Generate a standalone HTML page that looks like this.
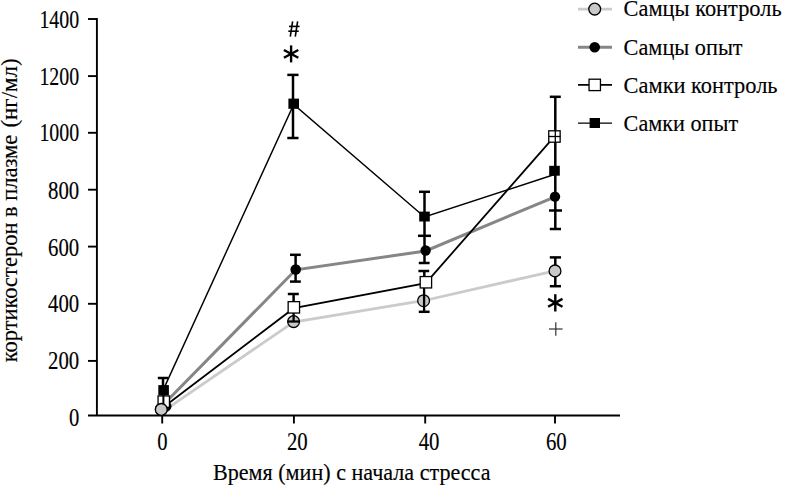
<!DOCTYPE html>
<html><head><meta charset="utf-8">
<style>
html,body{margin:0;padding:0;background:#fff;}
body{width:790px;height:485px;overflow:hidden;}
svg{display:block;}
text{font-family:"Liberation Serif",serif;fill:#000;stroke:#000;stroke-width:0.15px;}
</style></head>
<body>
<svg width="790" height="485" viewBox="0 0 790 485">
<rect width="790" height="485" fill="#fff"/>
<!-- axes -->
<g stroke="#000" stroke-width="1.9" fill="none">
<line x1="96.9" y1="18.1" x2="96.9" y2="415.5"/>
<line x1="88" y1="415.5" x2="620" y2="415.5"/>
<line x1="88" y1="19" x2="96.9" y2="19"/>
<line x1="88" y1="76.1" x2="96.9" y2="76.1"/>
<line x1="88" y1="132.8" x2="96.9" y2="132.8"/>
<line x1="88" y1="189.7" x2="96.9" y2="189.7"/>
<line x1="88" y1="246.6" x2="96.9" y2="246.6"/>
<line x1="88" y1="303.8" x2="96.9" y2="303.8"/>
<line x1="88" y1="360.9" x2="96.9" y2="360.9"/>
<line x1="162.2" y1="415.5" x2="162.2" y2="423.5"/>
<line x1="293.9" y1="415.5" x2="293.9" y2="423.5"/>
<line x1="425.2" y1="415.5" x2="425.2" y2="423.5"/>
<line x1="555" y1="415.5" x2="555" y2="423.5"/>
</g>
<!-- y tick labels -->
<g font-size="24.5" text-anchor="end">
<text x="79.2" y="27.75" textLength="39.8" lengthAdjust="spacingAndGlyphs">1400</text>
<text x="79.2" y="84.85" textLength="39.8" lengthAdjust="spacingAndGlyphs">1200</text>
<text x="79.2" y="141.45" textLength="39.8" lengthAdjust="spacingAndGlyphs">1000</text>
<text x="79.2" y="198.6" textLength="31.2" lengthAdjust="spacingAndGlyphs">800</text>
<text x="79.2" y="255.5" textLength="31.2" lengthAdjust="spacingAndGlyphs">600</text>
<text x="79.2" y="312.1" textLength="31.2" lengthAdjust="spacingAndGlyphs">400</text>
<text x="79.2" y="369.2" textLength="31.2" lengthAdjust="spacingAndGlyphs">200</text>
<text x="79.2" y="426.1" textLength="10.3" lengthAdjust="spacingAndGlyphs">0</text>
</g>
<!-- x tick labels -->
<g font-size="25" text-anchor="middle">
<text x="162.45" y="449.6" textLength="10.3" lengthAdjust="spacingAndGlyphs">0</text>
<text x="297.3" y="449.6" textLength="20.8" lengthAdjust="spacingAndGlyphs">20</text>
<text x="429.1" y="449.6" textLength="20.8" lengthAdjust="spacingAndGlyphs">40</text>
<text x="556.3" y="449.6" textLength="20.8" lengthAdjust="spacingAndGlyphs">60</text>
</g>
<!-- axis titles -->
<text x="213" y="480" font-size="22.5" textLength="277.5" lengthAdjust="spacingAndGlyphs">Время (мин) с начала стресса</text>
<g transform="translate(16.7,0) rotate(-90)" font-size="22.5">
<text x="-362.3" y="0" textLength="227.6" lengthAdjust="spacingAndGlyphs">кортикостерон в плазме</text>
<text x="-127.6" y="0" textLength="69.2" lengthAdjust="spacingAndGlyphs">(нг/мл)</text>
</g>

<!-- series lines -->
<polyline points="161.5,412.3 293.6,322.1 424.5,300.5 555,270.8" fill="none" stroke="#cbcbcb" stroke-width="2.8"/>
<polyline points="163,405 295.7,269.8 425.6,251 555,196.8" fill="none" stroke="#868686" stroke-width="3"/>
<polyline points="164,406.7 293.8,308.2 425.8,283.1 554.5,136.4" fill="none" stroke="#000" stroke-width="1.8"/>
<polyline points="163,390.4 293.7,104.4 424.5,217 554.5,174.5" fill="none" stroke="#000" stroke-width="1.45"/>

<!-- error bars -->
<g stroke="#000" stroke-width="2.5" fill="none">
<!-- t0 -->
<line x1="163" y1="378" x2="163" y2="405"/>
<line x1="157.8" y1="378" x2="168.2" y2="378"/>
<!-- t20 D -->
<line x1="293" y1="74.9" x2="293" y2="138"/>
<line x1="287.3" y1="74.9" x2="298.5" y2="74.9"/>
<line x1="287.3" y1="138" x2="298.5" y2="138"/>
<!-- t20 B -->
<line x1="295.6" y1="254.8" x2="295.6" y2="281.6"/>
<line x1="290" y1="254.8" x2="300.8" y2="254.8"/>
<line x1="290" y1="281.6" x2="300.8" y2="281.6"/>
<line x1="293.6" y1="294" x2="293.6" y2="302"/>
<line x1="287.8" y1="294" x2="298.8" y2="294"/>
<!-- t40 -->
<line x1="424.5" y1="191.8" x2="424.5" y2="263"/>
<line x1="424.3" y1="271" x2="424.3" y2="277"/>
<line x1="419" y1="191.8" x2="430" y2="191.8"/>
<line x1="418" y1="235.8" x2="431" y2="235.8"/>
<line x1="418.8" y1="263" x2="429.6" y2="263"/>
<line x1="418.4" y1="271" x2="429.2" y2="271"/>
<line x1="418.8" y1="311.8" x2="429.6" y2="311.8"/>
<!-- t60 -->
<line x1="555.3" y1="96.8" x2="555.3" y2="229"/>
<line x1="549.8" y1="96.8" x2="560.8" y2="96.8"/>
<line x1="549" y1="210.5" x2="562" y2="210.5"/>
<line x1="549.8" y1="229" x2="561" y2="229"/>
<line x1="555.3" y1="257.4" x2="555.3" y2="286.2"/>
<line x1="549.8" y1="257.4" x2="561" y2="257.4"/>
<line x1="549.8" y1="286.2" x2="561" y2="286.2"/>
</g>

<!-- markers -->
<!-- D black squares -->
<g fill="#000">
<rect x="158.3" y="385.1" width="10.6" height="10.2"/>
<rect x="288.4" y="98.6" width="10.6" height="10.2"/>
<rect x="419.2" y="211.6" width="10.6" height="9.9"/>
<rect x="549.2" y="165.8" width="10.6" height="9.9"/>
</g>
<!-- B black circles -->
<g fill="#000">
<circle cx="166.3" cy="406.3" r="5.2"/>
<circle cx="295.7" cy="269.5" r="5.3"/>
<circle cx="425.6" cy="250.5" r="5.2"/>
<circle cx="555" cy="196.6" r="5.2"/>
</g>
<!-- A gray circles -->
<g fill="#c8c8c8" stroke="#000" stroke-width="1.3">
<circle cx="161.3" cy="409.4" r="5.9"/>
<circle cx="293.6" cy="321.6" r="5.9"/>
<circle cx="423.6" cy="300.7" r="5.9"/>
<circle cx="555" cy="270.9" r="5.9"/>
</g>
<!-- error bar segments over gray circles -->
<g stroke="#000" stroke-width="2.3">
<line x1="293.6" y1="313" x2="293.6" y2="321.5"/>
<line x1="287.3" y1="321.5" x2="300" y2="321.5"/>
<line x1="424.1" y1="288" x2="424.1" y2="312"/>
</g>
<!-- C white squares -->
<g fill="#fff" stroke="#000" stroke-width="1.3">
<rect x="158.05" y="395.95" width="11.4" height="11.4"/>
<rect x="288.15" y="301.65" width="11.4" height="11.4"/>
<rect x="420.2" y="276.55" width="11.4" height="11.4"/>
<rect x="548.75" y="130.8" width="11.4" height="11.4"/>
</g>
<g stroke="#000" stroke-width="1.3">
<line x1="555.3" y1="130.5" x2="555.3" y2="142.5"/>
<line x1="548.5" y1="136.5" x2="560.5" y2="136.5"/>
</g>
<line x1="163.4" y1="395" x2="163.4" y2="404" stroke="#000" stroke-width="2"/>
<!-- gray circle at t0 on top -->
<circle cx="161.3" cy="409.4" r="5.9" fill="#c8c8c8" stroke="#000" stroke-width="1.3"/>

<!-- significance marks -->
<g stroke="#000" stroke-width="1.6" stroke-linecap="butt">
<line x1="292.6" y1="21.4" x2="290.3" y2="36.6"/>
<line x1="297.6" y1="21.4" x2="295.3" y2="36.6"/>
<line x1="289" y1="26.4" x2="299.6" y2="26.4"/>
<line x1="288.3" y1="31.2" x2="298.7" y2="31.2"/>
</g>
<g stroke="#000" stroke-width="2.4" stroke-linecap="butt">
<line x1="291.1" y1="45.4" x2="291.1" y2="62.4"/>
<line x1="283.9" y1="50" x2="298.3" y2="57.8"/>
<line x1="283.9" y1="57.8" x2="298.3" y2="50"/>
<line x1="555.3" y1="294.2" x2="555.3" y2="311.5"/>
<line x1="548.1" y1="298.9" x2="562.5" y2="306.8"/>
<line x1="548.1" y1="306.8" x2="562.5" y2="298.9"/>
</g>
<g stroke="#333" stroke-width="1.2">
<line x1="555.8" y1="322.3" x2="555.8" y2="335.7"/>
<line x1="549" y1="329" x2="562.6" y2="329"/>
</g>

<!-- legend -->
<line x1="578" y1="9.1" x2="612" y2="9.1" stroke="#cbcbcb" stroke-width="2.8"/>
<circle cx="594.7" cy="9.1" r="5.9" fill="#c8c8c8" stroke="#000" stroke-width="1.3"/>
<line x1="578" y1="47.3" x2="612" y2="47.3" stroke="#868686" stroke-width="3"/>
<circle cx="594.7" cy="47.3" r="5.3" fill="#000"/>
<line x1="578" y1="84.9" x2="612" y2="84.9" stroke="#000" stroke-width="1.8"/>
<rect x="589.05" y="79.2" width="11.4" height="11.4" fill="#fff" stroke="#000" stroke-width="1.3"/>
<line x1="578" y1="123.1" x2="612" y2="123.1" stroke="#000" stroke-width="1.45"/>
<rect x="589.6" y="118" width="10.4" height="10" fill="#000"/>
<g font-size="23.5">
<text x="623.6" y="16.4" textLength="158" lengthAdjust="spacingAndGlyphs">Самцы контроль</text>
<text x="623.6" y="55.2" textLength="119" lengthAdjust="spacingAndGlyphs">Самцы опыт</text>
<text x="623.6" y="93.2" textLength="154" lengthAdjust="spacingAndGlyphs">Самки контроль</text>
<text x="623.6" y="131.4" textLength="114.5" lengthAdjust="spacingAndGlyphs">Самки опыт</text>
</g>
</svg>
</body></html>
